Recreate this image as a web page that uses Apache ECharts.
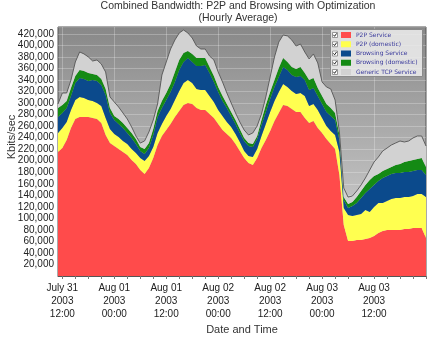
<!DOCTYPE html>
<html><head><meta charset="utf-8">
<script src="https://cdn.jsdelivr.net/npm/echarts@6/dist/echarts.min.js"></script>
<style>html,body{margin:0;padding:0;background:#fff}#c{width:428px;height:337px}</style>
</head><body><div id="c"></div>
<script>
// Hourly categories: 2003-07-31 11:00 .. 2003-08-04 00:00
const startHour = '2003-07-31T11:00:00Z';
const hourCount = 86;
const categories = [];
for (let i = 0; i < hourCount; i++) {
  const d = new Date(Date.parse(startHour) + i * 3600000);
  categories.push(d.toISOString().slice(0, 16).replace('T', ' '));
}
const tickLabels = {
  '2003-07-31 12:00': 'July 31\n2003\n12:00',
  '2003-08-01 00:00': 'Aug 01\n2003\n00:00',
  '2003-08-01 12:00': 'Aug 01\n2003\n12:00',
  '2003-08-02 00:00': 'Aug 02\n2003\n00:00',
  '2003-08-02 12:00': 'Aug 02\n2003\n12:00',
  '2003-08-03 00:00': 'Aug 03\n2003\n00:00',
  '2003-08-03 12:00': 'Aug 03\n2003\n12:00'
};
const yAxisTitle = 'Kbits/sec';
const seriesNames = ['P2P Service', 'P2P (domestic)', 'Browsing Service', 'Browsing (domestic)', 'Generic TCP Service'];
const seriesColors = ['#ff4b4b', '#ffff50', '#0b4a8c', '#148a14', '#d2d2d2'];

const p2pService = [215100,222100,236000,256800,272400,275900,275900,275900,274100,272400,265500,244600,230800,225600,220300,215100,209900,201300,194300,183900,177000,187400,204700,227300,242900,253300,263700,275900,286300,296700,300200,298400,291500,288000,288000,281100,274100,263700,253300,246400,239400,229000,216900,204700,196100,192600,204700,222100,236000,251600,268900,282800,296700,295000,289700,284500,284500,274100,265500,268900,256800,248100,237700,229000,220300,175200,88500,60700,60700,62500,62500,64200,65900,69400,74600,78100,79800,79800,79800,79800,81500,81500,83300,83300,83300,65900];
const p2pDomestic = [33000,34700,31200,31200,33000,34700,33000,29500,29500,27800,29500,29500,24300,20800,20800,19100,19100,19100,19100,20800,22600,20800,19100,20800,20800,24300,26000,29500,34700,38200,39900,36400,33000,34700,34700,31200,27800,24300,24300,20800,19100,17400,15600,12100,12100,13900,15600,20800,27800,33000,34700,36400,36400,33000,31200,31200,33000,38200,29500,29500,31200,26000,22600,22600,24300,39900,29500,45100,43400,43400,45100,50300,45100,50300,52100,48600,50300,53800,55500,55500,55500,55500,55500,59000,59000,71100];
const browsingService = [27800,26000,24300,24300,29500,33000,33000,33000,36400,38200,36400,39900,27800,24300,22600,22600,19100,19100,15600,12100,12100,13900,20800,27800,27800,27800,29500,31200,36400,36400,38200,36400,39900,41600,43400,39900,34700,31200,26000,24300,19100,17400,15600,17400,17400,17400,17400,19100,20800,22600,24300,26000,29500,29500,27800,29500,29500,27800,27800,27800,24300,24300,24300,26000,26000,20800,13900,12100,17400,20800,27800,29500,39900,38200,38200,43400,43400,43400,43400,43400,43400,43400,43400,41600,41600,38200];
const browsingDomestic = [15600,13900,12100,13900,12100,13900,13900,13900,10400,10400,10400,10400,8700,6900,8700,8700,8700,8700,8700,6900,8700,8700,10400,10400,12100,12100,13900,17400,17400,15600,12100,13900,13900,13900,12100,10400,10400,8700,8700,6900,6900,6900,6900,5200,5200,5200,5200,8700,12100,12100,12100,15600,15600,13900,13900,13900,15600,12100,17400,17400,13900,13900,13900,13900,12100,8700,5200,6900,6900,10400,12100,13900,15600,15600,12100,12100,12100,12100,13900,15600,17400,19100,19100,19100,20800,13900];
const genericTcp = [6900,20800,13900,13900,24300,31200,29500,27800,22600,26000,26000,29500,19100,24300,20800,17400,15600,10400,5200,6900,13900,19100,15600,12100,45100,53800,60700,55500,46800,39900,31200,27800,20800,15600,15600,19100,27800,26000,24300,19100,15600,12100,12100,13900,13900,19100,17400,10400,13900,26000,39900,45100,39900,45100,46800,39900,39900,36400,36400,41600,43400,24300,29500,33000,22600,5200,15600,12100,10400,10400,10400,12100,17400,24300,29500,34700,36400,38200,38200,39900,34700,34700,38200,39900,38200,36400];

const seriesData = [p2pService, p2pDomestic, browsingService, browsingDomestic, genericTcp];

const chart = echarts.init(document.getElementById('c'), null, {renderer: 'canvas'});
const FONT = 'Liberation Sans, Arial, sans-serif';

const legendTop = 31.5, rowStep = 9.25, rowH = 7;
const graphics = [{
  type: 'rect', z: 3,
  shape: {x: 330.5, y: 29.5, width: 92, height: 47},
  style: {fill: 'rgba(236,236,236,0.88)', stroke: '#8a8a8a', lineWidth: 1}
}, {
  type: 'text', x: 12, y: 137, rotation: Math.PI / 2, z: 10,
  style: {text: yAxisTitle, font: '11px ' + FONT, fill: '#333', align: 'center', verticalAlign: 'middle'}
}];
seriesNames.forEach((n, i) => {
  const c = legendTop + rowH / 2 + i * rowStep;
  graphics.push({type: 'rect', z: 5, shape: {x: 332.5, y: c - 2.5, width: 5, height: 5},
    style: {fill: '#fff', stroke: '#808080', lineWidth: 0.8}});
  graphics.push({type: 'polyline', z: 6, shape: {points: [[333.4, c - 0.2], [334.6, c + 1.3], [336.6, c - 1.6]]},
    style: {stroke: '#111', lineWidth: 0.9, fill: null}});
});

const option = {
  animation: false,
  backgroundColor: '#fff',
  title: {
    text: 'Combined Bandwidth: P2P and Browsing with Optimization\n(Hourly Average)',
    left: 238, top: 0, padding: 0, textAlign: 'center',
    textStyle: {fontFamily: FONT, fontSize: 10.5, fontWeight: 'normal', color: '#333', lineHeight: 12}
  },
  legend: {
    data: seriesNames, orient: 'vertical', left: 341, top: legendTop, padding: 0,
    icon: 'rect', itemWidth: 10, itemHeight: 6, itemGap: rowStep - rowH, selectedMode: false, z: 4,
    textStyle: {fontFamily: 'DejaVu Sans, Verdana, sans-serif', fontSize: 6, color: '#3a3a9c', lineHeight: rowH, height: rowH}
  },
  graphic: graphics,
  grid: {
    left: 58, right: 2, top: 27, bottom: 61, show: true, containLabel: false, outerBoundsMode: 'none',
    backgroundColor: new echarts.graphic.LinearGradient(0, 0, 0, 1, [
      {offset: 0, color: '#888888'}, {offset: 1, color: '#dcdcdc'}
    ]),
    borderColor: '#555', borderWidth: 1
  },
  xAxis: {
    type: 'category', data: categories, boundaryGap: false,
    name: 'Date and Time', nameLocation: 'middle', nameGap: 48, nameMoveOverlap: false,
    nameTextStyle: {fontFamily: FONT, fontSize: 11, color: '#333'},
    axisLine: {show: true, lineStyle: {color: '#555'}},
    axisTick: {show: true, length: 3, interval: (i) => i % 3 === 1, lineStyle: {color: '#777'}},
    axisLabel: {
      interval: (i, v) => v in tickLabels,
      formatter: (v) => tickLabels[v] || '',
      fontFamily: FONT, fontSize: 10, color: '#222', lineHeight: 13, margin: 6
    },
    splitLine: {show: true, interval: (i, v) => v in tickLabels, lineStyle: {color: 'rgba(255,255,255,0.25)', width: 1}}
  },
  yAxis: {
    type: 'value', min: 0, max: 432000, interval: 20000,
    axisLine: {show: false}, axisTick: {show: false},
    axisLabel: {
      fontFamily: FONT, fontSize: 10, color: '#222', margin: 4,
      showMinLabel: false, showMaxLabel: false,
      formatter: (v) => (v > 0 && v % 20000 === 0) ? v.toLocaleString('en-US') : ''
    },
    splitLine: {show: true, lineStyle: {color: 'rgba(255,255,255,0.25)', width: 1}}
  },
  series: seriesNames.map((n, i) => ({
    name: n, type: 'line', stack: 'total', data: seriesData[i],
    symbol: 'none', smooth: false,
    itemStyle: {color: seriesColors[i]},
    areaStyle: {color: seriesColors[i], opacity: 1},
    lineStyle: i === 4 ? {color: '#555', width: 0.9} : {width: 0}
  }))
};
chart.setOption(option);
</script>
</body></html>
